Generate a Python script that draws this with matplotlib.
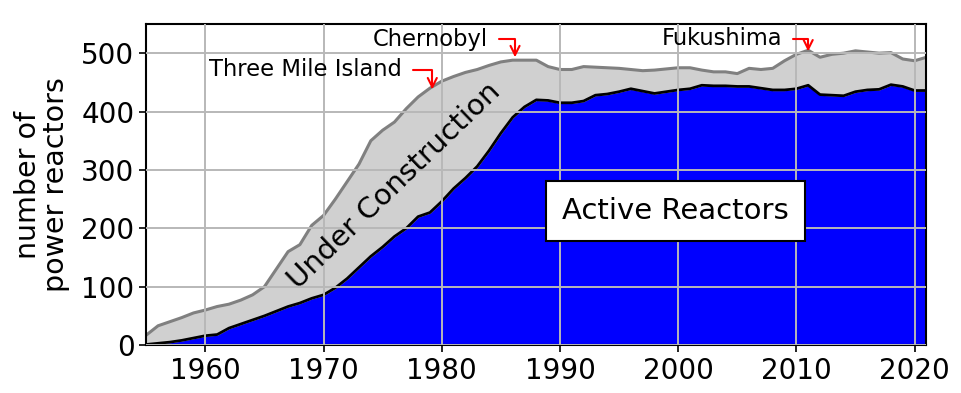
import matplotlib
matplotlib.use("Agg")
import matplotlib.pyplot as plt

# yearly counts
years = list(range(1955, 2022))

active = [1, 3, 5, 8, 12, 16, 18, 29, 36, 43,
          50, 58, 66, 72, 80, 86, 98, 114, 133, 152,
          168, 186, 200, 220, 227, 246, 268, 286, 306, 333,
          363, 390, 408, 420, 419, 415, 415, 418, 428, 430,
          434, 439, 435, 431, 434, 437, 439, 445, 444, 444,
          443, 443, 440, 437, 437, 439, 445, 429, 428, 427,
          434, 437, 438, 446, 443, 436, 436]

# active + under construction
total = [17, 33, 40, 47, 55, 60, 66, 70, 77, 86,
         100, 130, 160, 172, 205, 222, 250, 280, 310, 350,
         368, 382, 405, 425, 440, 452, 460, 467, 472, 479,
         485, 488, 488, 488, 477, 472, 472, 477, 476, 475,
         474, 472, 470, 471, 473, 475, 475, 471, 468, 468,
         465, 474, 472, 474, 487, 498, 505, 493, 498, 500,
         504, 502, 500, 501, 490, 487, 493]

events = ["Three Mile Island", "Chernobyl", "Fukushima"]
event_years = [1979.2, 1986.2, 2011.0]
event_vals = [438, 493, 503]
label_pos = [(1976.6, 472), (1983.9, 524), (2008.8, 525)]

fig = plt.figure(figsize=(9.62, 3.93), dpi=100)
ax = fig.add_axes([0.152, 0.122, 0.811, 0.817])

ax.fill_between(years, 0, active, color="#0000ff", zorder=1)
ax.fill_between(years, active, total, color="#d0d0d0", zorder=1)
ax.plot(years, total, color="#808080", lw=2.2, zorder=2)
ax.plot(years, active, color="black", lw=2.0, zorder=2)

ax.set_xlim(1955, 2021)
ax.set_ylim(0, 550)
ax.set_xticks(range(1960, 2021, 10))
ax.set_yticks(range(0, 501, 100))
ax.tick_params(labelsize=20, width=1.2, length=5)
ax.set_axisbelow(False)
ax.grid(True, color="#b8b8b8", lw=1.4, zorder=2.5)
for s in ax.spines.values():
    s.set_linewidth(1.5)

ax.set_ylabel("number of\npower reactors", fontsize=20.5, linespacing=1.0, labelpad=8)

for name, ex, ev, (tx, ty) in zip(events, event_years, event_vals, label_pos):
    ax.annotate(name, xy=(ex, ev), xytext=(tx, ty), fontsize=16.3,
                ha="right", va="center",
                arrowprops=dict(arrowstyle="->", color="red", lw=1.5,
                                shrinkA=6, shrinkB=0,
                                connectionstyle="angle,angleA=0,angleB=90,rad=0"))

ax.text(1976.0, 273, "Under Construction", fontsize=21, rotation=44,
        ha="center", va="center", rotation_mode="anchor")
ax.text(1999.8, 230, "Active Reactors", fontsize=21, ha="center", va="center",
        bbox=dict(boxstyle="square,pad=0.55", fc="white", ec="black", lw=1.5))

fig.savefig("out.png", dpi=100)
